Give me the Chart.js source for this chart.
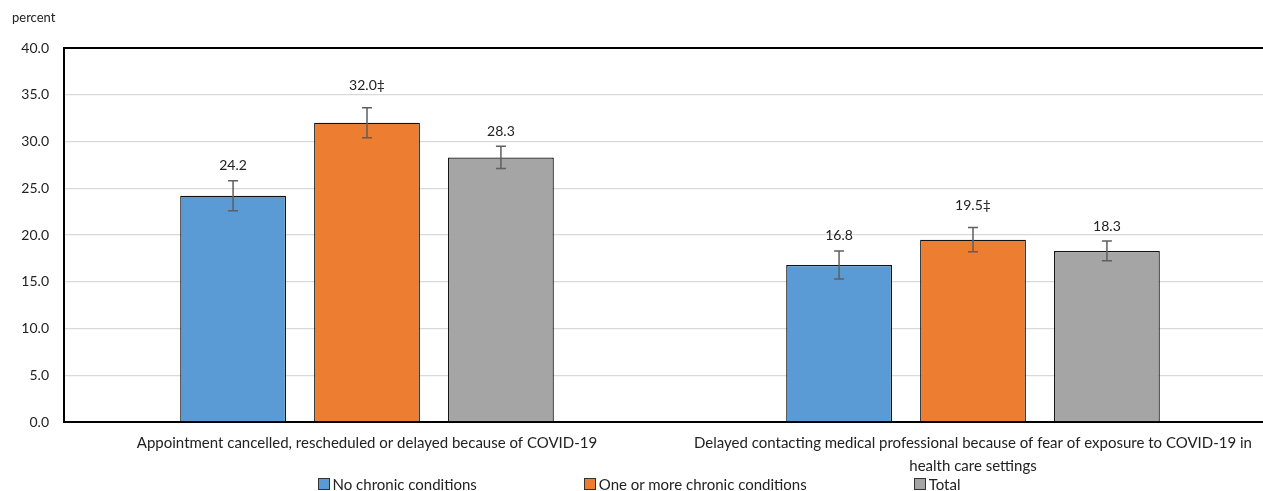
<!DOCTYPE html>
<html>
<head>
<meta charset="utf-8">
<script src="https://cdn.jsdelivr.net/npm/chart.js@4/dist/chart.umd.min.js"></script>
<style>
    body { margin: 0; width: 1263px; height: 491px; overflow: hidden; background: #fff; font-family: Lato, sans-serif; }
    #wrap { position: relative; width: 1276px; height: 491px; }
    #legend { position: absolute; left: 0; top: 475px; width: 1278px; display: flex; justify-content: center; gap: 107px; font-size: 15px; color: #222; }
    #legend .item { display: flex; align-items: center; }
    #legend .box { width: 10px; height: 10px; border: 1px solid #333; margin-right: 3px; }
</style>
</head>
<body>
<div id="wrap">
    <canvas id="barChart"></canvas>
    <div id="legend"></div>
</div>
<script>
const categories = [
    ['Appointment cancelled, rescheduled or delayed because of COVID-19'],
    ['Delayed contacting medical professional because of fear of exposure to COVID-19 in', 'health care settings']
];
const seriesNames = ['No chronic conditions', 'One or more chronic conditions', 'Total'];
const noChronic = [24.2, 16.8];
const oneOrMore = [32.0, 19.5];
const total = [28.3, 18.3];
// error bar half-widths (95% CI)
const noChronicErr = [1.6, 1.5];
const oneOrMoreErr = [1.6, 1.3];
const totalErr = [1.2, 1.05];
// significance marks after the value labels
const noChronicMark = ['', ''];
const oneOrMoreMark = ['\u2021', '\u2021'];
const totalMark = ['', ''];
const yTicks = [0, 5, 10, 15, 20, 25, 30, 35, 40];

const colors = ['#5B9BD5', '#ED7D31', '#A5A5A5'];
const FONT = 'Lato, sans-serif';

document.addEventListener('DOMContentLoaded', function () {
    const ctx = document.getElementById('barChart').getContext('2d');

    const seriesData = [noChronic, oneOrMore, total];
    const seriesErr = [noChronicErr, oneOrMoreErr, totalErr];
    const seriesMark = [noChronicMark, oneOrMoreMark, totalMark];

    // error bars and value labels
    const errorBarPlugin = {
        id: 'errorBars',
        afterDatasetsDraw(chart) {
            const c = chart.ctx;
            const y = chart.scales.y;
            chart.data.datasets.forEach((ds, i) => {
                const meta = chart.getDatasetMeta(i);
                meta.data.forEach((bar, j) => {
                    const v = ds.data[j];
                    const e = ds.errors[j];
                    const top = y.getPixelForValue(v + e);
                    const bottom = y.getPixelForValue(v - e);
                    c.save();
                    c.strokeStyle = '#5f5f5f';
                    c.lineWidth = 1.5;
                    c.beginPath();
                    c.moveTo(bar.x, top);
                    c.lineTo(bar.x, bottom);
                    c.moveTo(bar.x - 5, top);
                    c.lineTo(bar.x + 5, top);
                    c.moveTo(bar.x - 5, bottom);
                    c.lineTo(bar.x + 5, bottom);
                    c.stroke();
                    // flagged labels sit a bit higher, like in the source
                    const gap = ds.marks[j] ? 15 : 8;
                    c.fillStyle = '#222';
                    c.font = '14px ' + FONT;
                    c.textAlign = 'center';
                    c.textBaseline = 'bottom';
                    c.fillText(v.toFixed(1) + ds.marks[j], bar.x, top - gap);
                    c.restore();
                });
            });
            // unit label above the y axis
            c.save();
            c.fillStyle = '#222';
            c.font = '13px ' + FONT;
            c.textAlign = 'left';
            c.textBaseline = 'middle';
            c.fillText('percent', chart.chartArea.left - 52, 18);
            c.restore();
        }
    };

    const chart = new Chart(ctx, {
        type: 'bar',
        data: {
            labels: categories,
            datasets: seriesNames.map((name, i) => ({
                label: name,
                data: seriesData[i],
                errors: seriesErr[i],
                marks: seriesMark[i],
                backgroundColor: colors[i],
                borderColor: '#111',
                borderWidth: 1.3,
                categoryPercentage: 0.663,
                barPercentage: 0.79
            }))
        },
        options: {
            responsive: true,
            maintainAspectRatio: false,
            animation: false,
            layout: { padding: { top: 48, right: 0, bottom: 0, left: 0 } },
            plugins: {
                legend: { display: false },
                tooltip: { enabled: false }
            },
            scales: {
                x: {
                    afterFit: s => { s.height = 69; },
                    grid: { display: false },
                    border: { display: true, color: '#000', width: 2 },
                    ticks: {
                        color: '#222',
                        padding: 2,
                        maxRotation: 0,
                        autoSkip: false,
                        font: { family: FONT, size: 15, lineHeight: 1.5 }
                    }
                },
                y: {
                    min: 0,
                    max: 40,
                    afterBuildTicks: s => { s.ticks = yTicks.map(v => ({ value: v })); },
                    afterFit: s => { s.width = 64; },
                    border: { display: true, color: '#000', width: 2 },
                    grid: {
                        drawTicks: false,
                        color: c => c.tick && c.tick.value === 40 ? '#000' : '#d9d9d9',
                        lineWidth: c => c.tick && c.tick.value === 40 ? 2 : 1.3
                    },
                    ticks: {
                        color: '#222',
                        padding: 15,
                        font: { family: FONT, size: 14 },
                        callback: v => v.toFixed(1)
                    }
                }
            }
        },
        plugins: [errorBarPlugin]
    });

    // html legend, same look as the bars
    const legend = document.getElementById('legend');
    chart.data.datasets.forEach(ds => {
        const item = document.createElement('div');
        item.className = 'item';
        item.innerHTML = '<span class="box" style="background:' + ds.backgroundColor + '"></span>' + ds.label;
        legend.appendChild(item);
    });
});
</script>
</body>
</html>
